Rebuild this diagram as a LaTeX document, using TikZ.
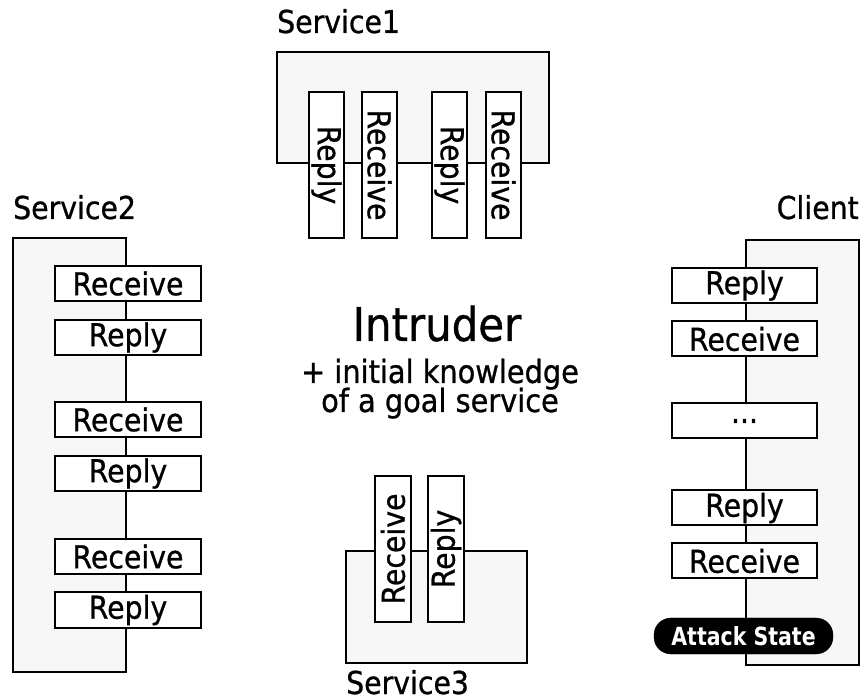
\documentclass[tikz,border=0pt]{standalone}
\usepackage{fontspec}
\setmainfont{DejaVu Sans}[FakeStretch=0.9,FakeBold=0.8]
\newfontfamily\attackfont{DejaVu Sans Bold}[FakeStretch=0.82]
\begin{document}
\begin{tikzpicture}[x=1pt,y=-1pt,
  svc/.style={draw=black, line width=2.2pt, fill=black!3},
  stepbox/.style={draw=black, line width=2pt, fill=white, inner sep=0pt,
    minimum width=146pt, minimum height=35pt, font=\fontsize{31.5}{33}\selectfont},
  lbl/.style={inner sep=0pt, font=\fontsize{31.5}{33}\selectfont},
  attack/.style={draw=black, fill=black, text=white, rounded corners=17pt, inner sep=0pt,
    minimum width=179pt, minimum height=36pt, font=\attackfont\fontsize{25}{28}\selectfont}]
\useasboundingbox (0,0) rectangle (863,700);
% service boxes
\draw[svc] (277,52) rectangle (549,163);
\draw[svc] (13,238) rectangle (126,672);
\draw[svc] (746,240) rectangle (859,665);
\draw[svc] (346,551) rectangle (527,663);
% titles
\node[lbl, anchor=base west] (t1) at (277,33) {Service1};
\node[lbl, anchor=base west] (t2) at (13,219) {Service2};
\node[lbl, anchor=base east] (tc) at (859,219) {Client};
\node[lbl, anchor=base west] (t3) at (346,694) {Service3};
% Service1
\node[stepbox, rotate=-90] (s1a) at (326.5,165) {Reply};
\node[stepbox, rotate=-90] (s1b) at (379.5,165) {Receive};
\node[stepbox, rotate=-90] (s1c) at (449.5,165) {Reply};
\node[stepbox, rotate=-90] (s1d) at (503.5,165) {Receive};
% Service2
\node[stepbox] (s2a) at (128,283.5) {Receive};
\node[stepbox] (s2b) at (128,337.5) {Reply};
\node[stepbox] (s2c) at (128,419.5) {Receive};
\node[stepbox] (s2d) at (128,473.5) {Reply};
\node[stepbox] (s2e) at (128,556.5) {Receive};
\node[stepbox] (s2f) at (128,610) {Reply};
% Client
\node[stepbox, minimum width=145pt] (c1) at (744.5,285.5) {Reply};
\node[stepbox, minimum width=145pt] (c2) at (744.5,339) {Receive};
\node[stepbox, minimum width=145pt] (c3) at (744.5,421) {...};
\node[stepbox, minimum width=145pt] (c4) at (744.5,508) {Reply};
\node[stepbox, minimum width=145pt] (c5) at (744.5,561) {Receive};
\node[attack] (att) at (743.5,636) {Attack State};
% Service3
\node[stepbox, rotate=90, minimum height=36pt] (s3a) at (393,549) {Receive};
\node[stepbox, rotate=90, minimum height=36pt] (s3b) at (446,549) {Reply};
% Intruder
\node[inner sep=0pt, anchor=base, font=\fontsize{46.5}{50}\selectfont] (intr) at (437,341) {Intruder};
\node[inner sep=0pt, anchor=base, font=\fontsize{32}{35}\selectfont] (k1) at (440,383) {+ initial knowledge};
\node[inner sep=0pt, anchor=base, font=\fontsize{32}{35}\selectfont] (k2) at (440,412) {of a goal service};
\end{tikzpicture}
\end{document}
